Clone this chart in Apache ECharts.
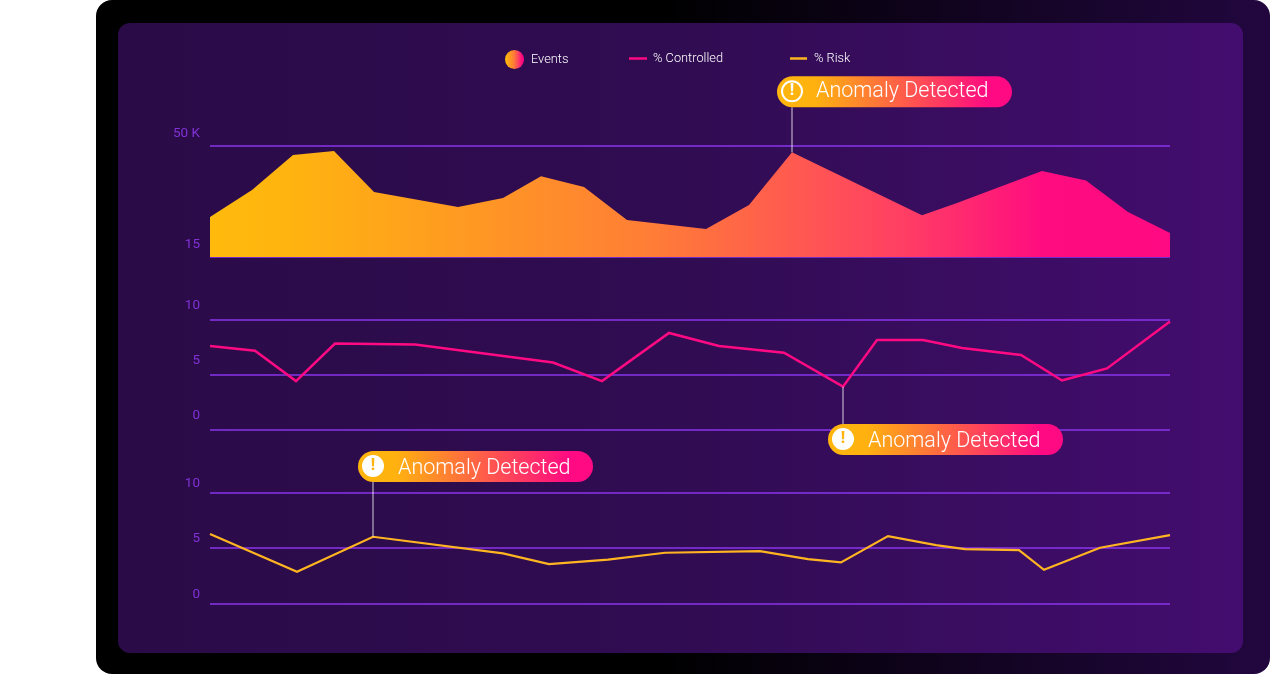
<!DOCTYPE html>
<html><head><meta charset="utf-8">
<style>html,body{margin:0;padding:0;background:#fff}#c{width:1270px;height:674px}</style>
<script src="https://cdn.jsdelivr.net/npm/echarts@6/dist/echarts.min.js"></script>
</head><body><div id="c"></div>
<script>
// x values are positions along a shared, unlabelled horizontal axis (0-960)
const eventsX = [0,42,83,124,164,248,293,331,374,417,496,539,582,712,747,832,876,918,960];
const eventsY = [27.6,36.1,47.2,48.4,35.5,30.8,33.6,40.5,37.1,26.7,23.8,31.4,48.0,28.2,32.0,42.1,39.1,29.2,22.6];
const controlledX = [0,45,86,125,205,343,392,459,509,574,633,667,713,752,811,852,897,960];
const controlledY = [7.6,7.18,4.43,7.83,7.74,6.11,4.43,8.78,7.6,7.0,3.92,8.14,8.14,7.42,6.79,4.48,5.57,9.82];
const riskX = [0,87,163,293,339,398,455,550,598,631,678,726,755,809,834,890,960];
const riskY = [6.27,2.87,6.03,4.53,3.57,3.97,4.59,4.74,4.02,3.72,6.09,5.28,4.92,4.83,3.05,5.04,6.18];
const eventsTicks = [15,50];
const pctTicks = [0,5,10];
const seriesNames = ['Events','% Controlled','% Risk'];
const calloutText = 'Anomaly Detected';
const anomalyEvents = 12, anomalyControlled = 10, anomalyRisk = 2;

const font = 'Roboto';
const axisColor = '#8032d6';
const lineColor = '#8a35ea';
const grad = (stops) => new echarts.graphic.LinearGradient(0,0,1,0,stops.map(s=>({offset:s[0],color:s[1]})));
const areaGrad = () => grad([[0,'#ffba0c'],[0.08,'#ffb40f'],[0.45,'#ff7f35'],[0.72,'#ff3f63'],[0.87,'#ff0c80'],[1,'#ff0a82']]);
const pillGrad = () => grad([[0,'#ffb50e'],[0.16,'#ffb20f'],[0.9,'#ff0a82'],[1,'#ff0a82']]);
const pillPath = 'path://M15.5 0H219.5A15.5 15.5 0 0 1 219.5 31H15.5A15.5 15.5 0 0 1 15.5 0Z';

function callout(xv, yv, dy, connector, outlined){
  const dir = dy < 0 ? -1 : 1;
  return [
    {coord:[xv,yv], symbol:'rect', symbolSize:[1,connector], symbolOffset:[0,dir*connector/2],
     itemStyle:{color:'rgba(255,255,255,0.8)'}, label:{show:false}},
    {coord:[xv,yv], symbol:pillPath, symbolSize:[235,31], symbolKeepAspect:false, symbolOffset:[102.5,dy],
     itemStyle:{color:pillGrad()},
     label:{show:true, formatter:calloutText, position:'insideLeft', distance:outlined?39:40, offset:[0,outlined?0:2], color:'#fff',
            fontFamily:font, fontWeight:300, fontSize:21.5}},
    {coord:[xv,yv], symbol:'circle', symbolSize:outlined?20:22, symbolOffset:[0,dy-0.5],
     itemStyle: outlined ? {color:'rgba(0,0,0,0)',borderColor:'#fff',borderWidth:2} : {color:'#fff'},
     label:{show:true, formatter:'!', position:'inside', color:outlined?'#fff':'#ffb30f',
            fontFamily:font, fontWeight:800, fontSize:16}}
  ];
}
const mkLegend = (name,left,w,h,icon,color,top,gap) => ({
  left, top, data:[{name,icon,itemStyle:{color}}], itemWidth:w, itemHeight:h, itemGap:7,
  selectedMode:false, padding:0, textStyle:{color:'#fff',fontFamily:font,fontWeight:300,fontSize:12.8,padding:[0,0,2,gap]}
});
const yAxis = (gridIndex,min,max,ticks,fmt,lift) => ({
  type:'value', gridIndex, min, max,
  axisLine:{show:false},
  axisTick:{show:false,customValues:ticks},
  axisLabel:{customValues:ticks, color:axisColor, fontFamily:font, fontWeight:400, fontSize:13.5,
             verticalAlign:'bottom', margin:10, padding:[0,0,lift,0], formatter:fmt, showMinLabel:true, showMaxLabel:true},
  splitLine:{show:true, lineStyle:{color:lineColor,width:1.5}}
});
const xAxis = (gridIndex) => ({type:'value',gridIndex,min:0,max:960,show:false});
const zip = (xs,ys)=>xs.map((x,i)=>[x,ys[i]]);

const chart = echarts.init(document.getElementById('c'),null,{renderer:'canvas'});
chart.setOption({
  animation:false,
  backgroundColor:'#fff',
  graphic:[
    {type:'rect',z:-2,silent:true,shape:{x:96,y:0,width:1174,height:674,r:16},
     style:{fill:new echarts.graphic.LinearGradient(0,0,1,0,[{offset:0,color:'#000'},{offset:0.48,color:'#000'},{offset:1,color:'#22073f'}])}},
    {type:'rect',z:-1,silent:true,shape:{x:118,y:23,width:1125,height:630,r:12},
     style:{fill:new echarts.graphic.LinearGradient(0,0,1,0,[{offset:0,color:'#2a0b47'},{offset:0.5,color:'#300c52'},{offset:1,color:'#430d6f'}])}}
  ],
  legend:[
    mkLegend(seriesNames[0],505,19,19,'circle',areaGrad(),50,2),
    mkLegend(seriesNames[1],629,18,2.5,'rect','#ff0a82',52,1),
    mkLegend(seriesNames[2],790,17,2.5,'rect','#ffb521',52,2)
  ],
  grid:[
    {left:210,width:960,top:146,height:111},
    {left:210,width:960,top:319.5,height:110.5},
    {left:210,width:960,top:492.7,height:111}
  ],
  xAxis:[xAxis(0),xAxis(1),xAxis(2)],
  yAxis:[
    yAxis(0,15,50,eventsTicks,v=>v===50?'50 K':String(v),5),
    yAxis(1,0,10,pctTicks,v=>String(v),7),
    yAxis(2,0,10,pctTicks,v=>String(v),2.5)
  ],
  series:[
    {name:seriesNames[0],type:'line',xAxisIndex:0,yAxisIndex:0,data:zip(eventsX,eventsY),showSymbol:false,
     lineStyle:{width:0},itemStyle:{color:'#ff7f35'},areaStyle:{color:areaGrad(),opacity:1},z:3,
     markPoint:{silent:true,z:6,data:callout(eventsX[anomalyEvents],eventsY[anomalyEvents],-60.5,45,true)}},
    {name:seriesNames[1],type:'line',xAxisIndex:1,yAxisIndex:1,data:zip(controlledX,controlledY),showSymbol:false,
     lineStyle:{width:2.5,color:'#ff0a82',join:'miter'},itemStyle:{color:'#ff0a82'},z:3,
     markPoint:{silent:true,z:6,data:callout(controlledX[anomalyControlled],controlledY[anomalyControlled],52.8,40,false)}},
    {name:seriesNames[2],type:'line',xAxisIndex:2,yAxisIndex:2,data:zip(riskX,riskY),showSymbol:false,
     lineStyle:{width:2.2,color:'#ffb521',join:'miter'},itemStyle:{color:'#ffb521'},z:3,
     markPoint:{silent:true,z:6,data:callout(riskX[anomalyRisk],riskY[anomalyRisk],-70.2,55,false)}}
  ]
});
</script></body></html>
